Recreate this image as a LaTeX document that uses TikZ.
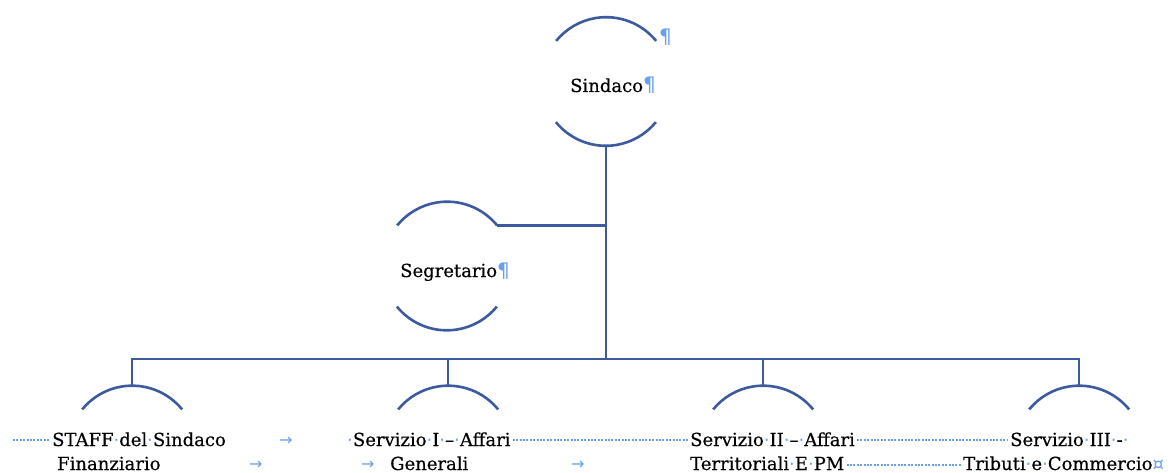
\documentclass[tikz,border=0pt]{standalone}
\usepackage{fontspec}
\setmainfont{DejaVu Serif}[FakeBold=0.35]
\newfontfamily\symf{DejaVu Sans}
\definecolor{linec}{RGB}{62,90,158}
\definecolor{markc}{RGB}{105,160,235}
\newcommand\spm{\makebox[0.32em][c]{\textcolor{markc}{\symf ·}}}
\newcommand\pilc{\textcolor{markc}{\symf\fontsize{20}{22}\selectfont ¶}}
\begin{document}
\begin{tikzpicture}[x=1pt,y=-1pt,
  arcline/.style={draw=linec,line width=2.6pt},
  conn/.style={draw=linec,line width=2.6pt},
  holder/.style={circle,minimum size=129pt,inner sep=0pt,outer sep=0pt},
  txt/.style={anchor=base west,inner sep=0pt,font=\fontsize{18}{22}\selectfont},
  pil/.style={anchor=base west,inner sep=0pt,font=\fontsize{18}{22}\selectfont},
  tabarrow/.style={anchor=base west,inner sep=0pt,text=markc,font=\symf\fontsize{16}{18}\selectfont},
  leader/.style={draw=markc,line width=2.2pt,dash pattern=on 2pt off 1.4pt}]
\useasboundingbox (0,0) rectangle (1172,473);
\fill[white] (0,0) rectangle (1172,473);
% shape holders
\node[holder] (sindaco) at (606,81.5) {};
\node[holder] (segretario) at (447,266) {};
\node[holder] (c1) at (132,450) {};
\node[holder] (c2) at (448,450) {};
\node[holder] (c3) at (763,450) {};
\node[holder] (c4) at (1079,450) {};
\coordinate (bus) at (606,359);
% arcs
\foreach \n in {sindaco,segretario,c1,c2,c3,c4}
  \draw[arcline] (\n.39.2) arc[start angle=39.2,end angle=140.8,radius=64.5pt];
\foreach \n in {sindaco,segretario}
  \draw[arcline] (\n.219.2) arc[start angle=219.2,end angle=320.8,radius=64.5pt];
% connectors
\draw[conn] (sindaco.south) -- (bus);
\draw[conn] (segretario.39.2) -- (segretario.39.2 -| bus);
\foreach \n in {c1,c2,c3,c4}
  \draw[conn] (bus) -| (\n.north);
% upper texts
\node[txt] (sindtxt) at (570,92) {Sindaco\pilc};
\node[pil] (pil0) at (659,44) {\pilc};
\node[txt] (segtxt) at (400,277) {Segretario\pilc};
% bottom texts, line 1
\node[txt] (t1a) at (52,446) {STAFF\spm del\spm Sindaco};
\node[txt] (t1b) at (347,446) {\spm Servizio\spm I\spm –\spm Affari};
\node[txt] (t1c) at (690,446) {Servizio\spm II\spm –\spm Affari};
\node[txt] (t1d) at (1010,446) {Servizio\spm III\spm -\spm};
% line 2
\node[txt] (t2a) at (57,470) {Finanziario};
\node[txt] (t2b) at (390,470) {Generali};
\node[txt] (t2c) at (690,470) {Territoriali\spm E\spm PM};
\node[txt] (t2d) at (963,470) {Tributi\spm e\spm Commercio\textcolor{markc}{\symf ¤}};
% tab arrows
\node[tabarrow] (a1) at (279,445) {→};
\node[tabarrow] (a2) at (249,469) {→};
\node[tabarrow] (a3) at (361,469) {→};
\node[tabarrow] (a4) at (571,469) {→};
% dotted leaders
\coordinate (lstart) at (13,440);
\draw[leader] (lstart) -- ([shift={(-2pt,6pt)}]t1a.base west);
\draw[leader] ([shift={(2pt,6pt)}]t1b.base east) -- ([shift={(-2pt,6pt)}]t1c.base west);
\draw[leader] ([shift={(2pt,6pt)}]t1c.base east) -- ([shift={(-2pt,6pt)}]t1d.base west);
\draw[leader] ([shift={(2pt,5pt)}]t2c.base east) -- ([shift={(-2pt,5pt)}]t2d.base west);
\end{tikzpicture}
\end{document}
